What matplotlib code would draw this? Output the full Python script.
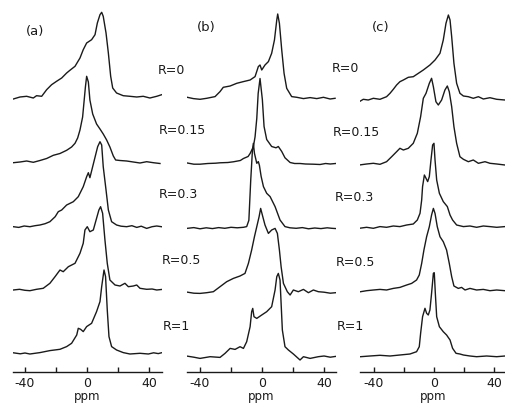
import matplotlib
matplotlib.use('Agg')
import matplotlib.pyplot as plt

plt.rcParams['font.family'] = ['DejaVu Sans']
plt.rcParams['axes.unicode_minus'] = False

# ---- data (ppm, intensity in arbitrary units) ----
R_LABELS = ['R=0', 'R=0.15', 'R=0.3', 'R=0.5', 'R=1']
PANEL_TAGS = ['(a)', '(b)', '(c)']
TICKS = [-40, -20, 0, 20, 40]
TICK_LABELS = ['-40', '', '0', '', '40']

# panel (a)
A0_PPM = [-47.5, -43.2, -38.9, -34.6, -32.5, -29.2, -26.0, -22.8, -19.6, -16.3, -13.1, -11.0, -7.7, -4.5, -2.4, -0.2, 3.0,
          5.2, 6.7, 8.4, 9.5, 10.5, 12.3, 13.8, 15.3, 16.6, 19.1, 23.4, 27.7, 32.1, 36.3, 40.6, 45.0, 48.2]
A0_INT = [-2, 0, 0.7, -1, 1.3, 0.7, 7.3, 12.3, 15.7, 19, 24, 26.7, 30.7, 39, 47.3, 54, 57.3,
          62.3, 74, 82.3, 84.7, 80.7, 64, 44, 20.7, 9, 4, 1.3, 0.7, 0, 0.7, -1, 0.7, 2.3]
A1_PPM = [-47.5, -43.2, -38.9, -34.6, -30.3, -26.0, -21.7, -17.4, -13.1, -9.9, -7.7, -6.0, -4.5, -2.8, -1.9, -1.0, -0.2,
          0.9, 1.9, 3.7, 6.2, 8.4, 10.5, 12.7, 14.8, 17.0, 18.5, 21.3, 25.6, 29.9, 34.2, 38.5, 42.8, 47.1]
A1_INT = [-0.7, 0, 1.0, -0.3, 1.5, 3.5, 6.7, 8.5, 11.7, 15, 18.7, 24, 32, 45, 60, 75, 85.7,
          80, 62, 48, 38, 33, 28, 22, 15, 6, 2, 1.5, 1, 0, -1, 0.3, -0.7, -1.5]
A2_PPM = [-47.5, -44.0, -40.5, -36.8, -33.5, -30.3, -27.0, -23.9, -20.5, -18.5, -16.3, -13.1, -8.8, -5.6, -2.4, -0.2, 0.9, 1.9,
          4.0, 6.9, 8.4, 9.5, 10.5, 12.3, 13.8, 15.9, 19.1, 22.0, 25.6, 29.0, 32.1, 35.0, 38.5, 42.0, 45.0, 48.0]
A2_INT = [0, -0.7, 0.7, 0, 1, 1.7, 3, 5, 10, 15, 16.7, 21.7, 25, 30, 40, 50, 54, 49,
          62, 80, 85, 81.7, 60, 36.7, 16.7, 5, 1.7, 0.5, 0, 1, -0.7, 0.5, -1.7, 0, 0.7, 0]
A3_PPM = [-47.5, -43.5, -40.0, -36.8, -32.5, -28.2, -23.9, -20.6, -17.4, -15.3, -12.0, -7.7, -4.5, -2.4, -1.3, 0.2, 1.9, 4.1,
          6.2, 7.7, 8.8, 10.1, 11.6, 13.1, 14.8, 18.1, 21.3, 24.5, 26.7, 29.9, 32.1, 34.2, 38.5, 42.0, 45.0, 48.0]
A3_INT = [0, 0.7, -0.3, -0.7, 0.7, 1.7, 6.7, 13.3, 20, 18.3, 23.3, 26.7, 36.7, 46.7, 60, 63.3, 58.3, 60,
          71.7, 80, 83.3, 76.7, 50, 26.7, 10, 5, 4, 6.7, 3.3, 4, 5, 1.7, 0.7, 1, 0, 0.5]
A4_PPM = [-47.5, -43.0, -40.0, -36.8, -30.3, -23.9, -17.4, -13.1, -9.9, -6.6, -5.6, -4.1, -2.4, -0.2, 3.0, 6.2,
          8.4, 9.5, 11.0, 12.0, 13.1, 14.2, 15.9, 19.1, 23.4, 27.7, 34.2, 39.6, 43.0, 46.0, 48.0]
A4_INT = [0.5, -0.5, 0.3, -0.7, 0.7, 2.7, 4, 6.7, 10, 18.3, 25, 24, 21.7, 26.7, 30, 41.7,
          51.7, 66.7, 83.3, 76.7, 43.3, 16.7, 6.7, 3.3, 0.7, -0.7, 0, -0.7, 0.5, -0.3, 0.5]

# panel (b)
B0_PPM = [-48.2, -44.3, -40.0, -35.7, -30.3, -27.1, -25.0, -20.6, -16.3, -12.0, -7.7, -4.5, -2.4, -1.3, -0.2, 1.9, 4.1,
          6.2, 8.0, 9.5, 10.1, 11.2, 12.7, 14.2, 15.9, 19.1, 22.4, 26.7, 31.0, 35.3, 39.6, 43.9, 47.1]
B0_INT = [1, -0.3, -1, 0, 1.7, 6.7, 11, 12.3, 15, 16.7, 18.3, 21.7, 31.7, 33.3, 28.3, 33.3, 36.7,
          45, 58.3, 78.3, 84.3, 75, 48.3, 25, 10, 1.7, 1, -0.3, 0.7, -0.3, 1, -0.7, 0]
B1_PPM = [-48.2, -44.0, -40.0, -35.0, -30.0, -27.1, -22.0, -18.5, -14.0, -12.0, -9.0, -7.7, -5.6, -4.5, -3.4, -2.5, -1.3,
          0.2, 1.3, 3.0, 6.2, 9.0, 10.5, 12.7, 14.8, 18.1, 21.0, 24.5, 28.0, 33.1, 37.4, 41.0, 44.0, 47.5]
B1_INT = [0.5, -0.7, -0.7, 0, 0.3, 0.7, 1, 1.7, 3, 5, 7, 10, 16.7, 26.7, 45, 70, 85,
          64, 37, 24, 17, 15.7, 17, 12, 5.7, 1, 0, 0, -0.5, -0.7, -1, 0, -0.5, 0]
B2_PPM = [-48.0, -44.0, -40.0, -36.0, -32.0, -28.0, -24.0, -20.0, -16.0, -12.0, -9.9, -8.5, -7.3, -6.2, -5.6, -4.9, -3.4, -2.4,
          -1.7, -0.6, 0.9, 3.0, 5.2, 8.4, 11.6, 14.8, 18.0, 22.0, 26.0, 30.0, 34.0, 38.0, 42.0, 45.0, 48.0]
B2_INT = [0, 0.7, -0.5, 0.5, -0.3, 0.7, 0, 1, 0.5, 1, 1.7, 8, 48, 78, 85, 75, 65, 66.7,
          63, 52, 41.7, 35, 31.7, 21.7, 8.3, 1.7, 0.5, 0, 0.7, -0.5, 0.3, -0.3, 0.5, 0, -0.3]
B3_PPM = [-48.0, -44.0, -40.0, -35.7, -31.4, -27.1, -22.8, -18.5, -14.2, -11.0, -8.8, -6.7, -4.9, -3.4, -1.9, -0.9, 0.2, 1.9,
          4.1, 6.2, 8.4, 9.9, 11.2, 12.3, 13.8, 16.3, 18.1, 20.2, 23.4, 26.7, 29.9, 33.1, 36.3, 40.0, 44.0, 47.5]
B3_INT = [0.5, -0.5, -0.7, 0, 1, 6, 11, 14.3, 16.7, 19.3, 29.3, 42.7, 56, 66, 76, 84.3, 77.7, 67.7,
          59.3, 62.7, 64.3, 59.3, 42.7, 26, 9.3, 1, -2.3, 2.7, 1, 3.3, 0, 2.7, 1, 0.5, -0.5, 0]
B4_PPM = [-48.0, -44.0, -40.0, -33.5, -27.1, -23.9, -20.6, -17.4, -14.2, -12.0, -9.9, -7.7, -6.7, -6.0, -5.2, -3.4, -0.2, 3.0,
          6.2, 8.4, 9.5, 10.5, 11.6, 12.3, 13.1, 14.8, 17.0, 20.2, 24.5, 26.7, 31.0, 36.3, 40.0, 44.0, 47.5]
B4_INT = [0.5, -0.5, -1.7, 0, -0.7, 3.3, 8.3, 7.3, 10, 8.3, 15, 30, 45, 48.3, 40, 38.3, 41.7, 45,
          50, 66.7, 80, 83.3, 76.7, 53.3, 26.7, 10, 6.7, 2.7, -3.3, 0, -1.7, 0, 0.7, -0.5, 0.3]

# panel (c)
C0_PPM = [-49.8, -47.1, -43.8, -40.4, -36.0, -31.6, -29.3, -27.1, -24.9, -22.7, -20.4, -17.1, -13.8, -10.4, -7.1, -2.7, 0.7,
          4.0, 6.2, 8.0, 9.6, 10.7, 11.8, 13.3, 15.1, 17.3, 19.6, 22.9, 26.2, 29.6, 32.9, 37.3, 41.8, 47.3]
C0_INT = [-1.7, 0.7, 0, 1.7, 0.7, 3.3, 6.7, 10.7, 15, 18.3, 20, 22.7, 23.3, 26.7, 30, 35, 40,
          46.7, 60, 76.7, 85, 80, 63.3, 36.7, 16.7, 6.7, 4, 3.3, 1.7, 3.3, 1, 2.3, 0.7, 0]
C1_PPM = [-49.8, -44.9, -40.4, -36.0, -31.6, -28.2, -24.9, -22.7, -20.4, -17.1, -13.8, -11.1, -8.9, -7.1, -5.3, -3.1, -1.6, -0.4,
          1.3, 2.9, 5.1, 7.3, 8.9, 10.2, 11.8, 13.3, 15.1, 17.3, 19.6, 22.9, 26.2, 29.6, 34.0, 37.3, 41.8, 47.3]
C1_INT = [0, 1, 1.7, 0.7, 3.3, 8.3, 13.3, 16.7, 15, 16.7, 21.7, 31.7, 48.3, 66.7, 71.7, 81.7, 86.7, 78.3,
          63.3, 60, 65, 75, 79, 73.3, 58.3, 38.3, 21.7, 8.3, 5.7, 3.3, 5, 1.7, 3.3, 1.7, 1, 0]
C2_PPM = [-49.8, -44.9, -40.4, -36.0, -31.6, -27.1, -22.7, -18.2, -13.8, -11.1, -9.3, -8.2, -7.6, -6.4, -5.3, -4.2, -3.1, -2.0,
          -0.9, 0.0, 0.7, 1.8, 3.6, 6.2, 8.9, 10.7, 12.4, 15.1, 19.6, 24.0, 28.4, 32.9, 37.3, 41.8, 47.3]
C2_INT = [0, 1, 0, 1.7, 1, 2.3, 1.7, 3.3, 4.3, 8.3, 15, 28.3, 41.7, 53.3, 50, 46.7, 51.7, 68.3,
          83.3, 85, 68.3, 48.3, 35, 26.7, 21.7, 13.3, 8.3, 3.3, 1.7, 2.3, 1, 2.3, 1.7, 1, 1.7]
C3_PPM = [-48.9, -44.9, -40.4, -36.0, -31.6, -27.1, -22.7, -18.2, -14.9, -11.6, -9.8, -8.2, -6.7, -4.9, -3.1, -1.6, -0.4,
          0.7, 2.2, 4.0, 6.2, 8.4, 10.2, 11.8, 13.3, 16.2, 18.4, 20.7, 24.0, 28.4, 32.9, 37.3, 41.8, 47.3]
C3_INT = [-1, 0, 0.7, 1.3, 0.7, 2.3, 3.3, 5.7, 7.3, 10.7, 15.7, 27.3, 40.7, 54, 64, 75.7, 82.3,
          77.3, 64, 54, 49, 40.7, 27.3, 14, 4.7, 2.3, 3.3, 0.7, 2.3, 0.7, 1.3, 0, 0.7, 0]
C4_PPM = [-48.9, -42.7, -36.0, -29.3, -22.7, -16.0, -11.6, -9.8, -8.9, -7.6, -6.0, -4.9, -3.8, -2.7, -1.6, -0.4,
          0.2, 0.9, 1.8, 3.6, 6.2, 8.4, 10.7, 12.4, 14.7, 17.3, 19.6, 24.0, 28.4, 35.1, 41.8, 47.3]
C4_INT = [-0.7, 0, 0.7, 0, 1, 2, 4.3, 9.3, 22.7, 39.3, 47.7, 42.7, 41, 46, 62.7, 82.7,
          83.3, 62.7, 39.3, 29.3, 24.3, 21, 16, 7.7, 2.7, 2, 1, 0, -0.7, 0, -0.7, 0]

# ---- layout (pixel units of the 506x403 picture) ----
W, H = 506, 403
AXIS_Y = 372  # pixel row of the ppm axis line

fig = plt.figure(figsize=(W / 100, H / 100), dpi=100)
fig.patch.set_facecolor('white')

panels = [
    # x0, x1 (px), xlim, baselines above axis (px), traces
    (13, 162, (-47.7, 48.4), [275, 210, 145.3, 82, 18.7],
     [(A0_PPM, A0_INT), (A1_PPM, A1_INT), (A2_PPM, A2_INT), (A3_PPM, A3_INT), (A4_PPM, A4_INT)]),
    (187, 336, (-48.4, 47.7), [273.7, 208.5, 143.7, 79.3, 15.3],
     [(B0_PPM, B0_INT), (B1_PPM, B1_INT), (B2_PPM, B2_INT), (B3_PPM, B3_INT), (B4_PPM, B4_INT)]),
    (360, 506, (-49.3, 48.0), [272, 207, 143.7, 81.3, 16],
     [(C0_PPM, C0_INT), (C1_PPM, C1_INT), (C2_PPM, C2_INT), (C3_PPM, C3_INT), (C4_PPM, C4_INT)]),
]

ink = '#1a1a1a'
for x0, x1, xlim, bases, traces in panels:
    ax = fig.add_axes([x0 / W, (H - AXIS_Y) / H, (x1 - x0) / W, AXIS_Y / H])
    for (ppm, inten), b in zip(traces, bases):
        ax.plot(ppm, [v + b for v in inten], color=ink, lw=1.0, solid_joinstyle='round')
    ax.set_xlim(*xlim)
    ax.set_ylim(0, AXIS_Y)
    for s in ['top', 'left', 'right']:
        ax.spines[s].set_visible(False)
    ax.spines['bottom'].set_color(ink)
    ax.spines['bottom'].set_linewidth(1.0)
    ax.set_yticks([])
    ax.set_xticks(TICKS)
    ax.set_xticklabels(TICK_LABELS)
    ax.tick_params(axis='x', direction='in', length=3.5, width=1.0, color=ink,
                   labelsize=9, labelcolor=ink, pad=3.5)
    # "ppm" sits just under the tick labels, close to the bottom edge
    ax.set_xlabel('ppm', fontsize=8.5, color=ink, va='baseline')
    ax.xaxis.set_label_coords(0.5, -28 / AXIS_Y)
    ax.patch.set_alpha(0)

# panel tags
for tag, (tx, ty) in zip(PANEL_TAGS, [(35.5, 32), (206.5, 27), (380.7, 28)]):
    fig.text(tx / W, 1 - ty / H, tag, fontsize=9.5, color=ink, ha='center', va='center')

# R labels in the gaps between panels
left_pos = [(158, 71), (159, 131), (159, 195), (162, 261), (163, 326)]
right_pos = [(332, 69), (333, 133), (335, 197), (336, 263), (337, 327)]
for lab, (lx, ly), (rx, ry) in zip(R_LABELS, left_pos, right_pos):
    fig.text(lx / W, 1 - ly / H, lab, fontsize=9, color=ink, ha='left', va='center')
    fig.text(rx / W, 1 - ry / H, lab, fontsize=9, color=ink, ha='left', va='center')

fig.savefig('out.png', dpi=100, facecolor='white')
